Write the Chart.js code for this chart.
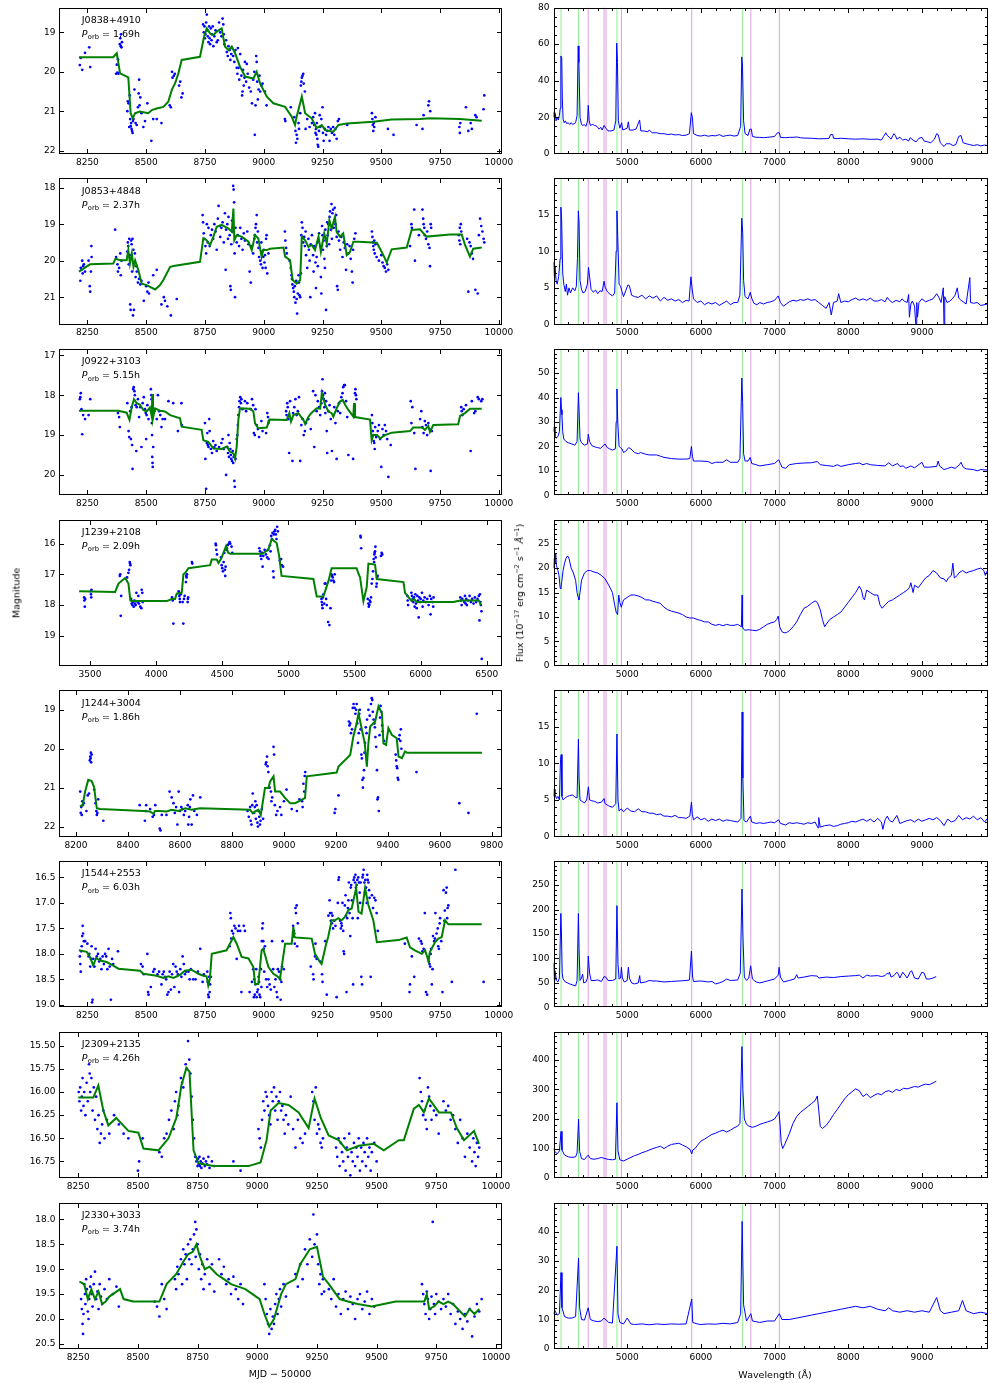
<!DOCTYPE html>
<html><head><meta charset="utf-8">
<script src="https://cdn.jsdelivr.net/npm/chart.js@4.4.1/dist/chart.umd.min.js"></script>
<style>
body{margin:0;width:988px;height:1383px;position:relative;background:#fff;overflow:hidden;font-family:"DejaVu Sans",sans-serif;}
canvas{position:absolute;}
.lbl{position:absolute;font-size:9.5px;color:#000;white-space:nowrap;z-index:5;transform:translate(-50%,-50%);}
.rot{transform:translate(-50%,-50%) rotate(-90deg);}
sup{font-size:6.5px;vertical-align:4px;}
</style></head><body>
<div class="lbl rot" style="left:16px;top:593px;">Magnitude</div>
<div class="lbl rot" style="left:519px;top:593px;">Flux (10<sup>−17</sup> erg cm<sup>−2</sup> s<sup>−1</sup> <i>Å</i><sup>−1</sup>)</div>
<div class="lbl" style="left:280px;top:1373px;">MJD − 50000</div>
<div class="lbl" style="left:775px;top:1374px;">Wavelength (Å)</div>
<script>
// ---------------- DATA ----------------
const names = ["J0838+4910","J0853+4848","J0922+3103","J1239+2108","J1244+3004","J1544+2553","J2309+2135","J2330+3033"];
const periods = ["1.69h","2.37h","5.15h","2.09h","1.86h","6.03h","4.26h","3.74h"];
const balmerLines = [4102,4340,4861,6563];
const heliumLines = [4471,4686,4713,4922,5876,6678,7065];

const lcTicksA = [8250,8500,8750,9000,9250,9500,9750,10000];
const lcTicksB = [3500,4000,4500,5000,5500,6000,6500];
const lcTicksC = [8200,8400,8600,8800,9000,9200,9400,9600,9800];
const specTicks = [5000,6000,7000,8000,9000];

const magTicks1 = [19,20,21,22];
const magTicks2 = [18,19,20,21];
const magTicks3 = [17,18,19,20];
const magTicks4 = [16,17,18,19];
const magTicks5 = [19,20,21,22];
const magTicks6 = [16.5,17.0,17.5,18.0,18.5,19.0];
const magTicks7 = [15.50,15.75,16.00,16.25,16.50,16.75];
const magTicks8 = [18.0,18.5,19.0,19.5,20.0,20.5];

const fluxTicks1 = [0,20,40,60,80];
const fluxTicks2 = [0,5,10,15];
const fluxTicks3 = [0,10,20,30,40,50];
const fluxTicks4 = [0,5,10,15,20,25];
const fluxTicks5 = [0,5,10,15];
const fluxTicks6 = [0,50,100,150,200,250];
const fluxTicks7 = [0,100,200,300,400];
const fluxTicks8 = [0,10,20,30,40];

// light curve observations [MJD-50000, mag]
const obs1 = [[8218,19.83],[8222,19.65],[8228,19.95],[8240,19.52],[8258,19.38],[8262,19.88],
[8372,20.05],[8375,19.82],[8378,20.02],[8380,19.68],[8382,20.05],[8388,19.3],[8390,19.15],[8392,19.35],[8393,19.05],[8395,19.38],[8397,19.25],
[8420,21.0],[8422,20.75],[8425,20.8],[8428,21.4],[8430,20.6],[8432,21.2],[8434,21.38],[8436,21.3],[8438,21.45],[8440,21.5],[8442,21.55],[8444,21.25],[8446,21.2],[8450,20.45],[8455,21.3],[8460,21.35],[8465,20.9],[8468,20.55],[8470,20.2],[8472,20.85],[8475,20.65],[8480,21.05],[8488,21.4],[8495,21.25],[8505,20.8],[8522,21.75],[8530,21.2],[8545,21.2],[8565,21.3],
[8600,20.85],[8605,20.9],[8610,20.0],[8612,20.15],[8618,20.1],[8622,20.05],[8640,20.35],[8645,20.25],[8650,20.65],[8655,20.55],
[8742,18.8],[8745,19.0],[8748,18.85],[8750,19.15],[8752,19.05],[8755,18.75],[8758,18.55],[8760,18.95],[8762,19.1],[8765,19.25],[8768,18.85],[8770,19.15],[8772,19.3],[8775,18.9],[8778,19.2],[8780,19.05],[8783,18.85],[8786,19.35],[8790,19.1],[8795,18.95],[8800,19.25],[8805,19.2],[8810,18.75],[8815,19.0],[8820,19.1],[8825,18.65],[8828,18.8],[8830,19.05],[8833,19.3],
[8840,19.2],[8843,19.5],[8847,19.6],[8850,19.35],[8855,19.45],[8858,19.7],[8862,19.55],[8865,19.4],[8870,19.6],[8875,19.75],[8880,19.45],[8885,19.9],[8888,20.05],[8890,19.4],[8893,19.9],[8896,20.2],[8900,19.55],[8905,20.1],[8908,20.6],[8910,20.5],[8912,19.95],[8915,20.35],[8918,20.15],[8920,19.75],[8925,20.25],[8928,19.8],[8932,20.05],[8938,20.4],[8945,20.5],[8950,20.8],[8955,20.2],[8960,20.0],[8962,21.6],[8965,20.85],[8968,19.6],[8970,19.75],[8972,20.25],[8975,20.7],[8978,20.45],[8982,20.1],[8985,20.5],[8990,20.35],[8995,20.3],[9005,20.5],[9012,20.85],
[9090,21.2],[9092,21.25],[9115,20.9],[9130,21.15],[9135,21.5],[9137,21.8],[9140,21.6],[9143,21.7],[9148,21.3],[9150,21.45],[9155,21.05],[9158,20.35],[9160,20.25],[9162,20.15],[9165,20.1],[9168,20.05],[9170,20.3],[9175,20.5],[9178,21.45],[9185,21.2],[9195,21.4],
[9205,21.3],[9210,21.15],[9215,21.35],[9218,21.05],[9220,21.55],[9222,21.45],[9224,21.6],[9226,21.3],[9228,21.7],[9230,21.85],[9232,21.9],[9235,21.5],[9238,21.1],[9240,21.4],[9245,21.2],[9250,20.9],[9252,21.55],[9255,21.75],[9260,21.45],[9265,21.6],[9270,21.5],[9275,21.4],[9280,21.75],[9285,21.45],[9290,21.55],[9295,21.4],[9300,21.6],[9305,21.45],[9310,21.7],[9315,21.25],[9320,21.2],
[9355,21.35],[9460,21.05],[9462,21.2],[9464,21.35],[9466,21.5],[9468,21.3],[9470,21.4],[9475,21.15],[9528,21.45],[9552,21.6],[9650,21.35],[9675,21.45],[9680,21.1],[9700,20.85],[9703,20.75],[9708,21.0],[9832,21.4],[9834,21.55],[9836,21.3],[9860,20.9],[9870,21.5],[9880,21.3],[9885,21.45],[9900,21.1],[9905,21.15],[9935,20.95],[9938,20.6]];
const fit1 = [[8214,19.63],[8360,19.63],[8375,19.53],[8389,20.04],[8424,20.14],[8434,21.05],[8443,21.18],[8453,21.05],[8474,21.01],[8509,21.05],[8524,20.97],[8545,20.93],[8573,20.89],[8594,20.76],[8609,20.46],[8623,20.29],[8637,20.04],[8651,19.7],[8729,19.62],[8746,19.11],[8758,18.9],[8772,19.03],[8786,19.07],[8800,18.98],[8821,18.9],[8835,19.36],[8850,19.45],[8864,19.36],[8878,19.53],[8899,19.87],[8921,20.12],[8956,20.17],[8970,20.0],[8984,20.29],[9013,20.63],[9041,20.8],[9091,20.89],[9119,21.14],[9133,21.35],[9140,21.14],[9162,20.63],[9176,21.05],[9204,21.18],[9225,21.43],[9247,21.35],[9261,21.48],[9296,21.52],[9318,21.35],[9353,21.31],[9466,21.27],[9544,21.21],[9665,21.2],[9708,21.18],[9835,21.2],[9927,21.24]];

const obs2 = [[8220,20.55],[8222,20.2],[8225,20.25],[8228,20.0],[8230,20.35],[8232,20.15],[8235,20.1],[8240,20.3],[8255,20.0],[8260,20.7],[8262,20.85],[8265,20.3],[8267,19.6],[8268,19.9],
[8368,19.15],[8372,19.9],[8378,20.1],[8380,20.3],[8385,20.2],[8390,19.8],[8392,20.4],[8395,20.0],[8420,19.75],[8422,19.5],[8424,19.6],[8426,20.1],[8428,19.4],[8430,19.85],[8432,21.2],[8434,21.35],[8436,19.45],[8438,19.55],[8440,20.3],[8442,19.4],[8444,21.5],[8446,19.7],[8448,21.35],[8450,20.05],[8452,19.8],[8455,20.45],[8458,20.15],[8460,20.3],[8465,20.6],[8470,20.5],[8475,20.65],[8480,20.55],[8490,21.1],[8500,20.7],[8505,20.85],[8510,20.6],[8512,20.9],[8530,20.4],[8545,20.25],[8565,21.2],[8575,21.0],[8580,21.1],[8590,21.25],[8605,21.5],[8630,21.05],
[8740,18.75],[8742,18.95],[8745,19.25],[8748,19.4],[8752,19.6],[8755,19.8],[8758,19.0],[8762,19.5],[8765,19.1],[8770,19.6],[8775,19.3],[8780,19.15],[8785,19.4],[8790,19.0],[8795,19.2],[8800,19.7],[8805,18.85],[8808,18.5],[8812,19.05],[8815,19.35],[8820,19.1],[8825,18.95],[8830,19.5],[8835,18.7],[8838,20.25],[8840,19.15],[8845,19.0],[8848,19.4],[8850,18.8],[8855,19.3],[8858,20.7],[8860,20.8],[8862,19.55],[8865,18.9],[8868,19.2],[8870,17.95],[8872,18.05],[8874,18.4],[8876,19.8],[8878,21.0],[8880,19.1],[8885,19.5],[8890,19.3],[8895,19.6],[8900,19.1],[8905,19.4],[8910,19.7],[8915,19.25],[8920,19.45],[8930,19.2],[8935,19.55],[8940,20.3],[8945,20.6],[8950,19.6],[8955,19.8],[8960,19.4],[8962,19.3],[8965,19.1],[8967,19.0],[8970,18.75],[8972,19.5],[8975,19.2],[8978,19.65],[8980,19.9],[8985,20.0],[8988,20.1],[8990,19.5],[8993,19.75],[8995,20.2],[8998,19.9],[9000,19.7],[9003,20.05],[9005,19.85],[9008,20.2],[9010,19.4],[9012,19.3],[9015,20.35],[9020,19.8],
[9090,19.2],[9092,19.45],[9095,19.65],[9098,19.8],[9110,20.0],[9115,20.2],[9118,20.4],[9120,20.5],[9122,20.65],[9125,20.75],[9128,20.85],[9130,21.0],[9132,20.7],[9135,21.15],[9138,20.55],[9140,21.05],[9142,21.45],[9145,20.9],[9148,20.4],[9150,20.6],[9152,20.95],[9155,21.0],[9158,20.35],[9160,19.3],[9162,18.95],[9165,19.1],[9168,19.5],
[9172,19.35],[9175,19.6],[9178,19.2],[9180,19.85],[9185,20.2],[9190,19.4],[9192,19.7],[9195,20.0],[9198,21.0],[9200,19.55],[9205,19.3],[9210,19.85],[9212,20.3],[9215,19.6],[9220,20.05],[9222,20.75],[9225,19.9],[9228,19.5],[9230,20.15],[9235,19.25],[9240,19.6],[9243,20.45],[9245,20.9],[9248,19.05],[9250,19.3],[9252,19.7],[9255,19.45],[9258,19.95],[9260,20.2],[9262,19.15],[9265,21.35],[9268,19.6],[9270,18.95],[9272,19.3],[9275,19.0],[9278,19.55],[9280,18.8],[9282,18.65],[9285,19.15],[9288,18.45],[9290,19.4],[9292,18.7],[9295,18.6],[9298,19.1],[9300,18.9],[9302,18.55],[9305,19.0],[9308,18.75],[9310,19.35],[9312,20.7],[9315,20.8],[9318,19.2],[9320,19.45],[9325,19.7],[9330,19.35],[9335,19.9],[9340,19.5],[9345,19.65],[9350,20.25],[9355,19.55],[9360,19.8],[9365,19.6],[9370,19.95],[9375,20.3],[9378,20.6],[9380,19.7],[9385,19.4],[9390,19.25],
[9460,19.2],[9462,19.35],[9464,19.5],[9466,19.6],[9468,19.7],[9470,19.45],[9472,19.8],[9475,19.55],[9480,19.9],[9490,20.0],[9500,19.85],[9505,20.05],[9510,20.15],[9515,20.2],[9520,20.3],[9525,20.1],[9530,20.25],
[9622,19.6],[9628,19.0],[9630,19.1],[9640,18.6],[9643,20.0],[9660,19.3],[9675,18.6],[9678,18.85],[9680,19.0],[9683,19.1],[9685,19.3],[9690,19.4],[9695,19.2],[9700,19.55],[9705,19.65],[9707,20.15],[9710,19.0],[9712,19.1],
[9830,19.3],[9832,19.45],[9834,19.1],[9836,19.55],[9838,19.0],[9840,19.2],[9865,19.4],[9870,20.85],[9875,19.5],[9880,19.6],[9885,19.8],[9890,19.95],[9900,20.8],[9910,20.9],[9915,19.3],[9920,18.85],[9925,19.05],[9930,19.2],[9935,19.4],[9938,19.5]];
const fit2 = [[8214,20.3],[8261,20.1],[8360,20.08],[8370,19.94],[8389,19.99],[8417,19.99],[8424,19.71],[8431,20.08],[8439,19.8],[8446,20.17],[8453,19.99],[8467,20.26],[8481,20.63],[8502,20.67],[8538,20.79],[8559,20.67],[8573,20.53],[8602,20.17],[8623,20.14],[8729,20.03],[8743,19.39],[8757,19.44],[8772,19.57],[8786,19.34],[8800,19.07],[8821,19.02],[8850,19.12],[8864,19.21],[8871,18.57],[8875,19.44],[8885,19.3],[8906,19.34],[8935,19.48],[8949,19.71],[8963,19.3],[8977,19.39],[8991,19.89],[8998,19.71],[9013,19.71],[9027,19.67],[9084,19.64],[9091,19.89],[9112,19.99],[9123,20.53],[9140,20.63],[9155,20.53],[9162,19.34],[9176,19.44],[9190,19.62],[9204,19.57],[9218,19.71],[9233,19.34],[9243,19.76],[9257,19.25],[9268,19.53],[9279,18.89],[9289,19.12],[9303,18.8],[9310,19.21],[9324,19.34],[9338,19.25],[9353,19.85],[9367,19.76],[9381,19.48],[9403,19.48],[9481,19.51],[9502,19.76],[9523,20.05],[9544,19.69],[9608,19.64],[9629,19.16],[9665,19.14],[9679,19.25],[9693,19.34],[9792,19.28],[9842,19.28],[9856,19.57],[9877,19.89],[9891,19.67],[9927,19.64]];

const obs3 = [[8218,18.1],[8220,18.05],[8222,17.95],[8225,18.35],[8228,18.98],[8232,18.5],[8240,18.6],[8255,18.5],[8262,18.1],
[8380,18.45],[8385,18.55],[8388,18.8],[8420,18.2],[8425,18.9],[8428,19.05],[8432,18.4],[8435,19.1],[8438,18.3],[8440,19.25],[8442,19.85],[8445,17.85],[8447,17.8],[8450,17.9],[8452,18.0],[8455,18.25],[8458,19.4],[8460,18.3],[8465,18.1],[8470,18.55],[8475,18.3],[8480,19.3],[8485,18.2],[8490,18.05],[8495,18.35],[8498,18.45],[8500,19.1],[8502,18.5],[8505,18.25],[8510,18.6],[8515,18.35],[8520,17.85],[8522,18.0],[8523,18.1],[8524,18.7],[8525,19.0],[8526,19.55],[8527,19.7],[8528,19.8],[8530,19.3],[8535,18.4],[8545,18.6],[8550,18.0],[8555,18.4],[8560,18.5],[8565,18.8],[8570,18.6],[8580,18.6],[8595,18.15],[8615,18.2],[8635,18.9],[8650,18.2],[8652,18.75],
[8750,18.7],[8752,19.6],[8755,20.35],[8758,19.2],[8760,18.95],[8762,19.25],[8765,19.3],[8768,18.6],[8770,18.9],[8775,19.35],[8780,19.45],[8785,19.15],[8790,19.3],[8795,19.25],[8800,19.4],[8810,19.3],[8820,19.2],[8825,19.1],[8830,19.35],[8840,20.0],[8845,19.3],[8848,19.45],[8850,19.0],[8852,19.55],[8855,19.2],[8858,19.35],[8860,19.5],[8862,19.6],[8865,19.65],[8868,19.4],[8870,19.7],[8872,19.55],[8875,20.15],[8877,20.3],[8880,19.6],[8885,19.1],[8888,19.0],[8890,18.75],[8892,18.5],[8895,18.3],[8897,18.15],[8900,18.05],[8903,18.2],[8905,18.1],[8910,18.35],[8920,18.15],[8925,18.4],[8930,18.2],[8945,18.35],[8950,18.1],[8955,18.25],[8958,18.95],[8962,19.0],[8965,18.35],[8970,18.75],[8975,18.85],[8980,19.05],[8990,18.65],[8995,18.9],[9010,18.95],[9015,18.45],[9018,18.55],[9020,18.7],[9022,18.65],
[9095,18.4],[9097,18.5],[9100,18.2],[9102,18.3],[9105,18.6],[9108,19.45],[9112,18.15],[9118,18.6],[9122,19.65],[9125,18.45],[9130,18.3],[9135,18.1],[9140,18.5],[9145,18.4],[9150,18.05],[9155,19.65],[9160,18.75],[9165,18.6],[9170,19.0],[9175,18.9],[9180,18.7],[9190,18.6],[9200,18.85],[9210,17.9],[9215,19.3],[9220,18.0],[9225,18.4],[9230,18.15],[9235,18.3],[9240,18.5],[9245,18.2],[9248,17.9],[9250,17.6],[9252,18.0],[9255,18.1],[9258,18.3],[9260,17.95],[9262,18.45],[9265,18.15],[9268,18.9],[9270,19.45],[9275,18.4],[9280,18.25],[9285,18.6],[9290,19.4],[9295,18.5],[9300,18.3],[9305,18.7],[9310,19.6],[9315,18.4],[9320,18.2],[9325,18.45],[9330,18.05],[9335,17.95],[9338,17.8],[9342,17.75],[9345,17.75],[9350,18.15],[9355,18.55],[9360,19.5],[9380,19.6],[9385,18.4],[9388,17.95],[9390,17.85],[9392,18.0],[9394,18.1],
[9460,18.5],[9462,18.7],[9464,18.9],[9466,19.0],[9468,19.15],[9470,19.2],[9472,19.35],[9474,18.8],[9478,19.05],[9485,18.9],[9490,18.75],[9495,19.1],[9500,19.8],[9505,18.85],[9510,19.0],[9515,18.75],[9520,18.9],[9525,19.1],[9530,20.05],[9540,19.25],
[9625,18.15],[9628,18.7],[9632,18.3],[9640,18.95],[9645,19.85],[9665,18.6],[9670,18.4],[9675,18.8],[9680,18.95],[9685,18.65],[9690,18.75],[9695,19.0],[9700,18.7],[9705,18.85],[9710,19.9],[9715,18.9],
[9840,18.3],[9842,18.4],[9845,18.5],[9850,18.35],[9860,18.25],[9880,19.4],[9885,18.15],[9895,18.45],[9900,18.4],[9910,18.05],[9915,18.1],[9925,18.15],[9930,18.1]];
const fit3 = [[8214,18.39],[8382,18.39],[8417,18.44],[8429,18.62],[8439,18.29],[8448,18.1],[8460,18.2],[8474,18.24],[8488,18.37],[8502,18.41],[8516,18.31],[8524,18.54],[8526,17.97],[8529,18.58],[8538,18.33],[8559,18.39],[8580,18.41],[8602,18.5],[8644,18.58],[8651,18.79],[8736,18.87],[8743,19.13],[8764,19.17],[8786,19.34],[8821,19.35],[8843,19.29],[8857,19.42],[8871,19.46],[8878,19.59],[8885,19.29],[8892,18.62],[8899,18.33],[8942,18.34],[8956,18.41],[8963,18.71],[8977,18.83],[9013,18.81],[9024,18.61],[9098,18.62],[9109,18.45],[9116,18.66],[9126,18.5],[9147,18.45],[9169,18.62],[9176,18.72],[9190,18.54],[9204,18.44],[9225,18.33],[9240,18.34],[9247,17.95],[9261,18.24],[9275,18.41],[9289,18.45],[9296,18.54],[9310,18.33],[9324,18.16],[9336,18.12],[9346,18.24],[9360,18.37],[9381,18.54],[9384,18.2],[9388,18.55],[9452,18.61],[9459,19.13],[9466,19.0],[9481,19.0],[9495,19.08],[9516,19.0],[9544,18.94],[9622,18.9],[9636,18.81],[9672,18.81],[9686,18.87],[9700,18.77],[9707,18.92],[9721,18.75],[9827,18.73],[9835,18.52],[9856,18.45],[9877,18.34],[9927,18.34]];

const obs4 = [[3455,17.75],[3457,17.85],[3460,18.05],[3463,17.8],[3505,17.55],[3507,17.65],[3509,17.75],[3511,17.5],
[3725,17.05],[3728,17.0],[3732,18.35],[3735,17.7],[3780,17.1],[3790,16.95],[3795,16.85],[3800,16.6],[3802,16.65],[3805,16.7],[3810,17.8],[3815,17.95],[3820,18.0],[3825,17.9],[3830,18.05],[3835,17.85],[3840,17.95],[3845,18.0],[3850,17.6],[3860,17.9],[3865,17.7],[3870,17.95],[3880,18.05],[3888,18.1],[3890,17.5],[3895,17.6],[3898,17.9],
[4120,17.75],[4125,17.85],[4130,18.6],[4170,17.55],[4172,17.6],[4175,17.7],[4178,17.8],[4180,17.9],[4185,17.65],[4200,17.9],[4205,18.6],[4210,17.8],[4215,17.7],[4225,17.25],[4228,17.05],[4230,17.1],[4233,17.0],[4238,17.9],[4240,17.8],[4242,17.75],[4270,16.6],[4273,16.65],
[4450,16.0],[4452,16.05],[4455,16.2],[4460,16.35],[4490,16.45],[4495,16.7],[4500,16.8],[4505,16.9],[4510,16.6],[4515,16.3],[4520,16.85],[4522,17.05],[4525,16.75],[4530,16.2],[4535,16.15],[4540,16.05],[4550,16.0],[4555,15.95],[4560,16.0],[4570,16.1],[4575,16.3],
[4780,16.15],[4785,16.25],[4790,16.4],[4795,16.5],[4800,16.3],[4805,16.75],[4810,16.4],[4820,16.2],[4830,16.35],[4840,16.45],[4845,16.2],[4850,16.5],[4860,16.05],[4865,16.25],[4870,15.75],[4875,15.85],[4880,15.65],[4885,16.9],[4888,17.1],[4890,15.7],[4895,15.6],[4900,15.55],[4905,15.7],[4910,15.85],[4915,15.45],[4920,15.6],[4935,16.55],[4945,16.5],[4950,16.7],[4960,16.75],
[5250,17.8],[5252,17.9],[5255,18.0],[5258,18.1],[5260,17.75],[5265,17.65],[5270,17.95],[5275,17.3],[5280,17.3],[5285,17.8],[5290,18.0],[5300,18.55],[5310,18.65],[5318,18.1],[5322,17.2],[5325,17.0],[5330,17.05],[5335,17.1],[5340,17.2],[5345,17.25],[5350,17.0],
[5545,15.75],[5547,15.8],[5550,16.15],[5600,17.8],[5605,17.95],[5608,18.05],[5612,18.0],[5615,17.85],[5620,17.9],[5625,17.75],[5630,17.3],[5635,17.15],[5640,16.9],[5645,16.5],[5648,16.6],[5650,16.35],[5652,16.3],[5655,16.25],[5658,16.1],[5660,16.45],[5665,17.4],[5668,17.3],[5670,17.1],[5675,17.05],[5700,16.4],[5705,16.3],[5710,16.35],
[5900,17.7],[5902,17.85],[5905,18.0],[5930,17.6],[5935,17.7],[5940,17.8],[5945,17.9],[5950,17.75],[5955,18.05],[5960,17.65],[5965,17.95],[5970,18.1],[5975,17.7],[5980,17.85],[5985,18.4],[5990,17.75],[5995,17.9],[6000,17.8],[6010,17.6],[6015,18.05],[6020,17.85],[6030,17.75],[6040,17.9],[6050,17.8],[6060,18.0],[6070,17.7],[6075,18.3],[6080,17.8],[6090,17.9],[6095,18.05],[6098,17.75],
[6300,17.75],[6305,17.85],[6310,18.0],[6315,17.8],[6330,17.9],[6335,17.7],[6340,17.95],[6345,17.8],[6350,18.0],[6360,17.85],[6370,17.7],[6380,17.9],[6390,17.8],[6400,17.95],[6410,17.75],[6420,17.9],[6430,17.8],[6440,17.7],[6445,18.5],[6448,17.65],[6452,17.9],[6455,18.0],[6460,18.2],[6462,19.75]];
const fit4 = [[3417,17.55],[3689,17.57],[3715,17.3],[3765,17.12],[3777,17.2],[3790,17.3],[3805,17.85],[3815,17.87],[4080,17.87],[4118,17.8],[4143,17.8],[4155,17.63],[4193,17.6],[4206,17.0],[4220,16.95],[4244,16.8],[4408,16.7],[4420,16.52],[4458,16.52],[4471,16.63],[4490,16.5],[4528,16.08],[4545,16.3],[4560,16.33],[4800,16.33],[4848,16.2],[4874,15.85],[4911,15.98],[4930,16.4],[4948,17.05],[5189,17.15],[5214,17.72],[5264,17.72],[5302,17.23],[5327,16.8],[5516,16.8],[5529,16.97],[5542,17.1],[5567,17.87],[5592,17.42],[5605,16.65],[5655,16.68],[5668,17.15],[5870,17.25],[5882,17.6],[5932,17.87],[5950,17.8],[5970,17.9],[6247,17.9],[6300,17.85],[6440,17.85],[6457,18.0]];

const obs5 = [[8216,21.1],[8218,21.65],[8220,21.5],[8222,21.7],[8224,21.35],[8226,21.45],[8230,21.4],[8240,21.6],[8245,21.2],[8250,21.15],[8253,20.3],[8255,20.2],[8256,20.25],[8257,20.1],[8258,20.35],[8260,20.15],[8270,21.05],[8275,21.4],[8278,21.6],[8280,21.7],[8282,21.65],[8285,21.3],[8305,21.85],
[8445,21.45],[8465,21.85],[8468,21.6],[8470,21.45],[8485,21.55],[8495,21.75],[8500,21.7],[8505,21.45],[8522,22.05],[8525,22.1],[8530,21.7],[8548,21.7],[8560,21.1],[8568,21.25],[8575,21.4],[8580,21.65],[8585,21.5],[8590,21.95],[8595,21.1],[8600,21.6],[8605,21.5],[8610,21.55],[8615,21.7],[8620,21.6],[8630,21.45],[8632,21.95],[8635,21.75],[8638,21.5],[8640,21.3],[8645,21.95],[8650,21.2],[8655,21.6],[8665,21.7],[8678,21.25],
[8860,21.6],[8865,21.75],[8870,21.5],[8872,21.85],[8875,21.95],[8878,21.45],[8880,21.15],[8885,21.65],[8888,21.5],[8890,21.35],[8892,21.8],[8895,21.45],[8898,21.9],[8900,22.0],[8902,21.6],[8905,21.75],[8908,21.95],[8910,21.85],[8915,21.55],[8920,21.8],
[8930,20.4],[8932,20.35],[8935,20.2],[8937,20.45],[8940,20.6],[8945,21.0],[8950,21.1],[8952,21.35],[8955,21.25],[8960,19.95],[8962,20.15],[8965,21.45],[8970,21.7],[8975,21.6],[8985,21.5],[8990,21.7],[9000,21.35],[9010,21.05],[9030,21.55],[9050,21.6],[9060,21.3],[9070,21.35],[9072,21.5],[9075,20.9],[9078,21.1],[9080,20.7],[9082,20.6],
[9195,21.65],[9198,21.55],[9210,21.2],[9250,19.3],[9252,19.4],[9255,19.35],[9258,19.6],[9262,19.5],[9265,18.95],[9268,18.85],[9272,18.95],[9275,19.1],[9278,19.0],[9280,18.85],[9282,19.35],[9285,19.85],[9288,19.6],[9290,19.1],[9292,19.0],[9295,19.5],[9298,20.15],[9300,20.25],[9302,20.8],[9304,21.0],[9306,20.75],[9308,20.55],[9310,20.1],[9312,19.85],[9315,19.45],[9318,19.6],[9320,19.25],[9325,19.0],[9330,19.15],[9335,18.85],[9338,18.7],[9340,18.75],[9342,19.05],[9345,19.25],[9348,19.35],[9350,19.45],[9352,19.7],[9355,19.95],[9358,20.55],[9360,21.3],[9362,21.25],[9365,21.6],[9368,19.65],[9370,19.2],[9372,18.9],[9375,19.05],[9378,19.4],[9380,19.55],[9385,19.8],
[9430,20.15],[9432,20.3],[9434,20.45],[9436,20.5],[9438,20.75],[9440,20.8],[9442,19.75],[9445,19.65],[9448,19.8],[9450,19.5],[9452,20.0],
[9510,20.6],[9675,21.4],[9710,21.65],[9742,19.1]];
const fit5 = [[8215,21.48],[8226,21.44],[8235,21.1],[8247,20.8],[8260,20.83],[8269,20.97],[8280,21.53],[8292,21.55],[8459,21.6],[8484,21.61],[8498,21.67],[8504,21.6],[8523,21.6],[8549,21.61],[8568,21.57],[8594,21.6],[8620,21.53],[8645,21.57],[8677,21.53],[8870,21.57],[8880,21.66],[8889,21.61],[8902,21.57],[8911,21.7],[8921,21.27],[8927,21.01],[8940,21.01],[8947,20.84],[8960,20.71],[8966,21.1],[8985,21.1],[9005,21.27],[9024,21.4],[9043,21.4],[9069,21.31],[9081,21.27],[9088,20.71],[9203,20.61],[9210,20.46],[9255,20.16],[9267,19.69],[9280,19.34],[9287,19.09],[9300,19.51],[9311,19.86],[9319,20.46],[9325,19.86],[9332,19.43],[9351,19.3],[9364,18.91],[9377,19.09],[9383,19.86],[9393,19.9],[9402,19.47],[9415,19.64],[9434,19.73],[9441,20.2],[9454,20.24],[9466,20.07],[9473,20.1],[9762,20.1]];

const obs6 = [[8218,18.05],[8220,18.2],[8222,18.35],[8224,17.95],[8226,17.85],[8228,17.65],[8230,17.45],[8232,17.6],[8235,17.75],[8240,17.75],[8250,17.8],[8255,18.05],[8258,18.0],[8262,18.25],[8265,18.1],[8268,17.85],[8270,18.95],[8272,18.9],[8275,18.1],[8280,18.25],[8285,17.9],[8290,18.05],[8295,18.0],[8300,18.15],[8305,18.1],[8310,18.3],[8315,18.05],[8320,18.2],[8325,18.0],[8330,18.05],[8335,18.3],[8340,17.9],[8345,18.25],[8350,18.9],[8355,18.1],[8360,18.2],[8380,17.95],
[8478,18.2],[8485,18.25],[8490,18.4],[8505,18.0],[8508,18.75],[8510,18.8],[8520,18.65],[8530,18.35],[8535,18.3],[8548,18.4],[8555,18.35],[8565,18.6],[8570,18.4],[8575,18.35],[8580,18.45],[8585,18.5],[8590,18.8],[8595,18.75],[8600,18.35],[8605,18.7],[8610,18.4],[8615,18.2],[8620,18.65],[8625,18.25],[8630,18.35],[8635,18.4],[8640,18.75],[8645,18.3],[8650,18.45],[8655,18.05],[8660,18.2],[8665,18.4],[8670,18.35],[8680,18.35],[8685,18.5],[8690,18.3],[8700,18.5],[8710,18.5],[8720,18.35],[8730,17.9],[8740,18.55],[8745,18.4],
[8760,18.35],[8762,18.55],[8764,18.8],[8766,18.85],[8768,18.45],[8770,18.75],[8772,18.6],[8775,18.45],
[8855,17.85],[8858,17.2],[8860,17.3],[8862,17.7],[8865,17.55],[8870,17.6],[8875,17.45],[8880,17.5],[8885,18.1],[8890,17.55],[8895,17.45],[8900,17.55],[8905,18.75],[8915,17.45],[8920,17.55],
[8940,18.75],[8950,18.55],[8955,18.3],[8958,18.85],[8960,18.5],[8962,18.8],[8965,18.6],[8968,18.3],[8970,18.85],[8972,18.75],[8975,18.7],[8978,18.45],[8980,18.55],[8982,18.8],[8985,18.85],[8988,18.3],[8990,18.65],[8992,17.75],[8994,17.5],[8996,17.4],[8998,17.75],[9000,17.9],[9002,18.35],[9005,17.85],[9010,18.5],[9015,18.65],[9020,18.5],[9025,18.6],[9030,18.7],[9035,17.75],[9040,18.3],[9045,18.65],[9050,18.5],[9055,18.75],[9058,18.85],[9060,18.3],[9065,18.35],[9070,18.5],[9072,18.9],[9075,18.55],[9078,18.25],[9080,17.75],[9085,18.3],
[9125,17.45],[9128,17.55],[9130,17.6],[9132,17.8],[9135,17.1],[9137,17.2],[9140,17.05],[9142,17.85],[9145,17.4],
[9200,18.25],[9210,18.4],[9212,18.5],[9218,18.05],[9220,17.8],[9225,18.1],[9240,18.15],[9248,18.4],[9250,18.55],[9262,17.75],[9268,18.8],[9275,17.25],[9280,16.95],[9282,17.2],[9285,17.35],[9288,17.2],[9290,17.4],[9292,17.25],[9295,17.5],[9300,17.35],[9305,17.45],[9310,18.85],[9315,17.0],[9318,16.55],[9320,16.5],[9325,17.35],[9328,17.5],[9330,17.4],[9332,17.45],[9335,17.0],[9338,17.55],[9340,17.95],[9342,18.0],[9345,17.05],[9348,16.85],[9350,17.25],[9352,18.75],[9355,17.3],[9358,17.1],[9360,16.95],[9362,16.6],[9365,17.2],[9368,17.65],[9370,16.7],[9372,16.65],[9375,16.95],[9378,17.3],[9380,18.6],[9382,16.55],[9385,16.5],[9388,16.6],[9390,16.45],[9392,16.7],[9395,16.65],[9398,16.55],[9400,17.3],[9402,16.5],[9405,16.6],[9408,16.8],[9410,17.0],[9412,16.6],[9415,18.45],[9418,18.6],[9420,16.5],[9422,16.45],[9425,16.35],[9428,16.6],[9430,16.8],[9432,16.55],[9435,16.7],[9438,17.0],[9440,16.45],[9442,16.55],[9445,16.6],[9448,16.75],[9450,16.9],[9455,18.45],[9460,16.85],[9465,17.1],[9470,16.9],[9475,16.95],[9480,17.2],[9485,17.55],
[9600,17.8],[9620,18.75],[9622,18.6],[9630,18.05],[9640,18.45],[9660,17.7],[9668,17.75],[9672,17.8],[9675,17.95],[9680,17.9],[9685,17.2],[9690,18.75],[9695,18.8],[9700,18.1],[9702,18.15],[9705,18.2],[9708,18.25],[9710,18.0],[9712,17.9],[9715,18.6],[9718,18.3],[9720,17.65],[9725,17.75],[9728,17.7],[9730,17.2],[9735,17.6],[9740,17.5],[9742,17.85],[9745,17.9],[9748,17.4],[9750,17.3],[9755,17.75],[9760,18.75],[9765,16.75],[9768,17.35],[9770,17.15],[9775,16.8],[9778,16.7],[9780,17.3],[9782,17.1],[9785,17.05],[9800,18.55],[9815,16.35],[9935,18.55]];
const fit6 = [[8214,17.93],[8247,17.96],[8261,18.06],[8275,18.23],[8287,18.08],[8304,18.13],[8332,18.16],[8360,18.23],[8382,18.29],[8474,18.33],[8488,18.39],[8516,18.41],[8545,18.43],[8573,18.47],[8594,18.44],[8616,18.47],[8644,18.41],[8665,18.33],[8693,18.31],[8722,18.39],[8743,18.43],[8757,18.44],[8764,18.62],[8771,18.49],[8779,18.0],[8842,17.93],[8871,17.67],[8885,17.8],[8906,18.06],[8935,18.09],[8956,18.26],[8963,18.59],[8977,18.59],[8991,17.93],[8998,17.9],[9020,18.26],[9041,18.39],[9055,18.43],[9069,18.49],[9091,17.8],[9119,17.8],[9126,17.47],[9130,17.67],[9137,17.68],[9204,17.7],[9218,18.0],[9239,18.16],[9246,18.2],[9264,17.83],[9274,17.67],[9289,17.34],[9303,17.34],[9317,17.3],[9331,17.34],[9346,17.27],[9360,17.14],[9374,17.11],[9393,16.71],[9403,17.17],[9416,17.21],[9431,16.71],[9445,17.04],[9466,17.34],[9481,17.77],[9573,17.73],[9608,17.68],[9622,17.87],[9643,17.93],[9672,18.0],[9686,17.93],[9700,18.13],[9707,17.96],[9729,17.77],[9743,17.7],[9757,17.67],[9771,17.34],[9785,17.42],[9927,17.42]];

const obs7 = [[8252,16.0],[8255,16.1],[8258,15.95],[8262,16.2],[8265,16.05],[8268,15.85],[8272,16.15],[8275,16.0],[8280,16.25],[8285,15.9],[8290,16.1],[8295,15.7],[8298,15.8],[8300,16.0],[8305,15.85],[8310,16.2],[8315,15.95],[8320,16.3],[8325,16.05],[8330,16.4],[8335,16.25],[8340,16.55],[8345,16.45],[8350,16.35],[8355,16.2],[8360,16.5],[8370,16.3],[8380,16.45],[8400,16.25],[8420,16.35],[8440,16.45],[8460,16.5],
[8500,16.85],[8505,16.75],[8520,16.5],
[8590,16.65],[8600,16.7],[8610,16.5],[8620,16.45],[8630,16.3],[8640,16.2],[8650,16.4],[8655,16.1],[8660,16.0],[8665,16.25],[8670,16.15],[8680,15.85],[8685,15.9],[8690,15.95],[8700,15.7],[8705,15.75],[8710,15.45],[8715,15.65],[8720,15.8],[8725,16.05],[8730,16.3],[8735,16.5],
[8740,16.7],[8745,16.75],[8750,16.8],[8752,16.72],[8755,16.78],[8758,16.7],[8760,16.8],[8763,16.75],[8766,16.82],[8770,16.77],[8775,16.72],[8780,16.8],[8785,16.75],[8790,16.78],[8795,16.7],[8800,16.82],[8810,16.75],[8820,16.8],[8900,16.75],[8930,16.85],
[9005,16.4],[9010,16.5],[9015,16.6],[9020,16.3],[9025,16.1],[9030,16.2],[9035,16.0],[9040,16.05],[9045,16.15],[9050,16.25],[9055,16.35],[9060,16.0],[9065,16.1],[9070,15.95],[9075,16.2],[9080,16.05],[9085,16.3],[9090,16.1],[9095,16.0],[9100,16.2],[9105,16.15],[9110,16.3],[9115,16.45],[9120,16.25],[9130,16.35],[9140,16.05],[9150,16.4],[9160,16.6],[9170,16.3],[9180,16.5],[9190,16.55],[9200,16.45],
[9230,16.0],[9235,16.1],[9240,16.3],[9245,15.95],[9250,16.45],[9255,16.35],[9260,16.4],[9265,16.55],[9270,16.6],[9275,16.5],
[9330,16.6],[9335,16.7],[9340,16.5],[9345,16.8],[9350,16.55],[9355,16.65],[9360,16.75],[9365,16.5],[9370,16.85],[9375,16.6],[9380,16.7],[9385,16.45],[9390,16.9],[9395,16.65],[9400,16.75],[9405,16.55],[9410,16.8],[9415,16.6],[9420,16.7],[9425,16.5],[9430,16.85],[9435,16.6],[9440,16.75],[9445,16.55],[9450,16.65],[9455,16.8],[9460,16.5],[9465,16.7],[9470,16.6],[9475,16.85],[9480,16.65],[9490,16.55],[9500,16.75],
[9680,15.85],[9685,16.0],[9690,16.1],[9695,16.25],[9700,16.2],[9705,16.3],[9710,16.4],[9715,15.95],[9720,16.05],[9725,16.15],[9730,16.3],[9740,16.2],[9750,16.25],[9760,16.45],
[9780,16.1],[9790,16.2],[9800,16.15],[9810,16.3],[9820,16.25],[9830,16.4],[9840,16.55],[9850,16.3],[9860,16.5],[9870,16.7],[9880,16.45],[9890,16.6],[9900,16.75],[9905,16.5],[9910,16.65],[9915,16.8],[9920,16.55],[9925,16.7],[9930,16.6]];
const fit7 = [[8250,16.06],[8313,16.06],[8334,15.93],[8355,16.2],[8376,16.36],[8409,16.28],[8460,16.42],[8502,16.44],[8523,16.61],[8586,16.63],[8628,16.5],[8661,16.28],[8682,15.93],[8703,15.74],[8716,15.78],[8733,16.63],[8754,16.77],[8817,16.8],[8963,16.8],[9014,16.76],[9039,16.52],[9056,16.2],[9089,16.12],[9131,16.14],[9173,16.22],[9215,16.39],[9240,16.07],[9266,16.28],[9299,16.47],[9341,16.52],[9375,16.63],[9425,16.58],[9488,16.56],[9530,16.63],[9593,16.52],[9614,16.52],[9656,16.18],[9677,16.14],[9698,16.22],[9719,16.07],[9761,16.22],[9811,16.22],[9836,16.39],[9866,16.52],[9908,16.42],[9929,16.56]];

const obs8 = [[8262,19.6],[8265,19.8],[8268,20.1],[8270,20.3],[8272,19.9],[8275,19.3],[8278,19.5],[8280,19.7],[8283,19.2],[8286,19.4],[8290,19.85],[8293,20.0],[8296,19.6],[8300,19.35],[8303,19.15],[8306,19.5],[8310,19.75],[8315,19.3],[8320,19.05],[8325,19.6],[8330,19.45],[8335,19.8],[8340,19.3],[8345,19.55],[8350,19.7],[8360,19.4],[8370,19.6],[8380,19.2],[8395,19.5],[8410,19.35],[8420,19.75],
[8570,19.65],[8580,19.75],[8590,19.95],[8600,19.3],[8610,19.6],[8620,19.8],
[8655,19.2],[8660,19.4],[8665,18.95],[8670,19.1],[8680,18.8],[8685,19.3],[8690,18.6],[8695,18.9],[8700,18.7],[8705,19.2],[8710,18.5],[8715,18.8],[8720,18.4],[8725,18.9],[8730,18.6],[8735,18.3],[8740,18.05],[8742,18.75],[8745,18.2],[8750,18.5],[8755,19.0],[8760,18.7],[8765,19.2],[8770,18.9],[8775,19.4],[8780,19.1],[8790,18.8],[8800,19.3],[8810,18.9],[8820,19.45],
[8840,18.8],[8850,19.1],[8860,18.95],[8870,19.3],[8880,19.2],[8890,19.5],[8900,19.15],[8910,19.4],[8920,19.6],[8930,19.3],[8940,19.7],
[9030,19.3],[9035,19.6],[9040,19.9],[9045,20.1],[9050,20.3],[9055,19.8],[9060,20.2],[9065,19.95],[9070,20.1],[9075,19.7],[9080,19.5],[9085,19.9],[9090,19.6],[9095,19.4],[9100,19.75],[9110,19.3],[9120,19.55],
[9160,19.1],[9170,19.35],[9180,18.9],[9190,19.2],[9200,18.6],[9210,18.9],[9220,18.4],[9230,18.75],[9235,17.9],[9240,18.5],[9250,18.3],[9255,18.9],[9260,19.3],[9265,19.1],[9270,19.5],[9275,19.2],[9280,19.45],
[9300,19.4],[9310,19.6],[9320,19.2],[9330,19.75],[9340,19.5],[9350,19.9],[9360,19.6],[9370,19.45],[9380,19.8],[9390,19.55],[9400,19.7],[9410,20.0],[9420,19.6],[9430,19.5],[9440,19.8],[9450,19.65],[9460,19.45],[9470,19.9],[9480,19.6],[9490,19.75],
[9690,19.3],[9695,19.5],[9700,19.7],[9705,19.9],[9710,19.45],[9715,19.6],[9720,20.0],[9725,19.8],[9730,19.55],[9735,18.05],[9740,19.7],[9745,19.9],[9750,19.5],[9760,19.65],[9770,19.8],[9780,19.6],[9790,19.75],[9800,19.5],[9810,19.9],[9820,19.7],[9830,20.1],[9840,19.85],[9850,20.0],[9860,20.2],[9870,19.9],[9880,20.05],[9890,19.8],[9900,20.35],[9910,19.95],[9920,19.7],[9930,19.85],[9940,19.6]];
const fit8 = [[8255,19.25],[8275,19.3],[8290,19.6],[8305,19.4],[8320,19.6],[8335,19.45],[8350,19.7],[8365,19.65],[8380,19.55],[8395,19.5],[8410,19.45],[8425,19.4],[8440,19.6],[8480,19.65],[8590,19.65],[8620,19.3],[8660,19.1],[8690,18.85],[8710,18.7],[8730,18.65],[8745,18.5],[8760,18.75],[8780,19.0],[8800,18.95],[8830,19.1],[8860,19.2],[8890,19.3],[8920,19.35],[8950,19.4],[8980,19.5],[9010,19.6],[9030,19.9],[9050,20.15],[9070,20.0],[9085,19.75],[9100,19.5],[9120,19.3],[9140,19.25],[9160,19.2],[9180,18.9],[9200,18.75],[9220,18.6],[9250,18.55],[9265,18.9],[9275,19.15],[9300,19.3],[9330,19.5],[9345,19.6],[9380,19.65],[9420,19.7],[9480,19.75],[9530,19.7],[9580,19.65],[9650,19.65],[9700,19.65],[9710,19.5],[9720,19.8],[9740,19.75],[9760,19.65],[9780,19.7],[9800,19.65],[9820,19.7],[9850,19.85],[9870,19.95],[9890,19.8],[9910,19.9],[9930,19.8]];

// spectra [wavelength (A), flux]
const spec1 = [[4000,20],[4008,23],[4015,19],[4025,22],[4035,18],[4050,20],[4065,18.5],[4080,21],[4092,25],[4100,53.5],[4112,52.5],[4120,30],[4130,19],[4145,17],[4160,18],[4180,16.5],[4200,17],[4220,16],[4240,17],[4260,16],[4280,16.5],[4300,17],[4320,21],[4335,59],[4345,50],[4360,20],[4380,16],[4400,15.5],[4420,16],[4440,15],[4462,18],[4472,26.5],[4485,18],[4500,15.5],[4530,16],[4560,15.5],[4590,15],[4620,13.5],[4640,14.5],[4660,13],[4686,15.5],[4710,14],[4740,12.5],[4780,12.5],[4820,13],[4845,18],[4858,60.5],[4868,50],[4880,18],[4900,14],[4925,17],[4940,13],[4970,13.5],[5000,14],[5016,17.5],[5030,13],[5080,13],[5120,13.5],[5169,18.5],[5185,12.5],[5230,12.5],[5280,12],[5300,13],[5340,11.5],[5400,11.5],[5450,11],[5500,11],[5550,10.5],[5600,10.8],[5650,10.3],[5700,10.5],[5750,10],[5800,10.2],[5845,11],[5870,22.5],[5885,20],[5900,11],[5950,10],[6000,9.7],[6050,10.2],[6100,9.6],[6150,10],[6200,9.8],[6250,10.5],[6300,9.5],[6350,10],[6400,10.2],[6450,9.7],[6500,10],[6540,15],[6555,53],[6565,48],[6580,18],[6600,11],[6640,10],[6665,13.5],[6685,13.5],[6700,9.5],[6750,9],[6800,9],[6850,8.8],[6900,9],[6950,9.2],[7000,9.5],[7040,11.5],[7065,11.5],[7080,9],[7150,8.8],[7200,9],[7250,9],[7300,9.2],[7350,8.8],[7400,8.6],[7500,8.5],[7600,8.2],[7700,8.3],[7740,8.5],[7760,10.5],[7790,10.5],[7800,8.5],[7850,8.3],[7900,8.5],[8000,8.2],[8100,8],[8200,8.2],[8300,7.9],[8400,8],[8450,7.5],[8480,9.5],[8510,11.5],[8530,10],[8560,9],[8580,8],[8620,11],[8640,10],[8660,8],[8700,9],[8740,7.5],[8780,8],[8820,7],[8840,8.8],[8880,7.5],[8920,6.5],[8960,8.5],[9000,9],[9030,7],[9080,6.5],[9120,6],[9170,8],[9200,11],[9220,10.5],[9250,6],[9300,4],[9330,5.5],[9380,5.5],[9420,4.5],[9460,5],[9500,9.5],[9530,10],[9560,6],[9600,5.5],[9650,5],[9700,4.5],[9750,5],[9800,4.3],[9850,4.8],[9890,4.5]];
const spec2 = [[4000,8.5],[4010,6.5],[4020,8.0],[4035,6.0],[4050,5.5],[4070,6.5],[4090,9],[4100,16],[4110,14.5],[4125,7],[4140,5.5],[4160,4.5],[4175,5.5],[4190,4],[4210,5],[4230,4.3],[4260,5],[4290,4.6],[4310,5.2],[4325,9],[4337,15.5],[4347,14],[4360,6],[4380,4.8],[4400,4.3],[4430,4.5],[4460,5.5],[4475,7.8],[4490,6.5],[4510,4.8],[4540,4.4],[4570,4.7],[4600,4.2],[4630,4.6],[4660,4.5],[4686,5.9],[4700,5.1],[4730,4.5],[4760,4.2],[4800,3.9],[4830,4.3],[4850,10],[4861,15.5],[4872,12],[4890,5.5],[4910,5.2],[4930,4.5],[4950,3.8],[4980,4.6],[5010,5.4],[5030,5.3],[5060,4],[5100,3.8],[5150,3.7],[5200,4.0],[5250,3.5],[5300,3.9],[5350,3.6],[5400,3.9],[5450,3.2],[5500,3.7],[5550,3.3],[5600,3.5],[5650,3.2],[5700,3.4],[5750,3.0],[5800,3.3],[5840,3.2],[5865,6.5],[5880,5.0],[5900,3.5],[5950,3.0],[6000,3.2],[6050,2.7],[6100,3.0],[6150,2.8],[6200,3.0],[6250,2.6],[6300,2.9],[6350,3.2],[6400,2.7],[6450,3.0],[6500,3.0],[6530,4],[6555,14.5],[6568,12.5],[6580,6],[6600,3.8],[6640,3.5],[6670,4.4],[6690,3.6],[6720,2.9],[6760,2.7],[6800,3.0],[6850,2.8],[6900,3.0],[6950,3.1],[7000,3.3],[7050,3.9],[7080,3.0],[7120,2.5],[7160,2.8],[7200,3.1],[7250,3.3],[7300,3.2],[7350,3.4],[7400,3.3],[7450,3.5],[7500,3.3],[7550,3.4],[7600,3.0],[7650,2.6],[7700,2.2],[7740,3.0],[7770,1.3],[7800,3.0],[7850,3.2],[7870,4.2],[7900,3.0],[7950,3.2],[8000,3.1],[8050,3.4],[8100,3.6],[8150,3.3],[8200,3.5],[8250,3.3],[8300,3.6],[8350,3.2],[8400,3.2],[8450,3.4],[8500,3.1],[8530,3.7],[8560,3.3],[8600,3.0],[8650,3.3],[8700,3.1],[8730,3.5],[8760,3.2],[8800,3.0],[8820,4.1],[8830,1.0],[8850,2.8],[8870,3.2],[8900,2.5],[8920,-0.5],[8930,3.0],[8940,1.0],[8960,3.0],[9000,3.5],[9050,3.1],[9100,3.3],[9150,3.5],[9200,4.2],[9230,3.7],[9260,3.0],[9290,5.0],[9300,-0.5],[9310,3.8],[9340,3.0],[9380,3.2],[9420,3.6],[9450,4.0],[9480,5.0],[9500,3.6],[9530,3.3],[9560,3.1],[9600,2.8],[9650,6.4],[9660,3.0],[9700,2.9],[9750,3.0],[9800,2.6],[9890,2.8]];
const spec3 = [[4000,26],[4010,28],[4020,24],[4040,23.5],[4060,24],[4080,26],[4100,40],[4108,35],[4115,33],[4125,26],[4140,23],[4170,22],[4200,21.5],[4250,21],[4290,20.5],[4320,22],[4338,42],[4347,35],[4360,23],[4380,21.5],[4420,20.5],[4460,21],[4472,25],[4490,22],[4520,20.3],[4560,19.8],[4600,19.5],[4640,19.2],[4680,20.5],[4700,21],[4730,19.5],[4760,19],[4800,18.5],[4840,19],[4850,30],[4861,43.5],[4872,30],[4890,20],[4910,19.5],[4930,19],[4950,17.5],[4980,18],[5020,19.5],[5050,19],[5100,17.5],[5150,17],[5180,17.5],[5250,16.8],[5300,16.5],[5400,16.5],[5450,16],[5500,15.5],[5600,15],[5700,14.8],[5800,14.8],[5850,15],[5872,20],[5885,16],[5900,14],[6000,14],[6100,13.8],[6150,13],[6200,13.5],[6300,13.5],[6350,14.5],[6400,13.5],[6500,13.5],[6530,15],[6556,48],[6567,38],[6580,17],[6600,14],[6640,14],[6670,15.5],[6690,13],[6750,12.5],[6800,12],[6900,12.5],[7000,13],[7055,14.5],[7080,13],[7100,11.5],[7150,11],[7200,12.5],[7300,13],[7400,13.2],[7500,13.3],[7580,13.8],[7620,12.5],[7700,12.2],[7800,11.8],[7850,12.5],[7900,11.8],[8000,12.5],[8100,13],[8150,13.2],[8200,12.5],[8250,13],[8300,12.5],[8400,12.2],[8500,12],[8550,13.3],[8600,12],[8670,13],[8700,11.8],[8750,12],[8780,11],[8850,12],[8900,11.2],[9000,13.5],[9030,11.5],[9100,11.5],[9200,11.8],[9220,14],[9240,12],[9300,10.5],[9350,11],[9400,11.5],[9450,11],[9510,12.5],[9530,13.5],[9560,11.5],[9600,10.8],[9700,10.5],[9750,10],[9800,10.5],[9890,10.3]];
const spec4 = [[4000,20],[4010,22],[4020,21],[4030,23],[4040,20.5],[4060,19.5],[4075,18.5],[4090,16],[4100,15.8],[4110,17],[4130,19.5],[4150,21],[4170,22],[4190,22.5],[4210,22],[4240,20],[4270,19],[4300,17.5],[4320,15],[4335,14],[4345,13.5],[4360,15],[4380,17.5],[4420,19],[4460,19.5],[4500,19.5],[4550,19.2],[4600,19],[4650,18.5],[4700,17.8],[4750,16.5],[4800,15],[4830,12.5],[4850,11],[4870,10.5],[4885,14.5],[4900,13],[4920,12],[4950,13.5],[5000,14],[5050,14.5],[5100,14.5],[5150,14.3],[5200,14],[5250,13.5],[5300,13.5],[5350,13.2],[5400,13],[5450,12.8],[5500,12],[5550,11.5],[5600,11.2],[5650,11],[5700,10.8],[5750,10.5],[5800,10],[5850,9.8],[5900,9.8],[5950,9.5],[6000,9.3],[6050,9],[6100,9],[6150,8.5],[6200,8.3],[6250,8.5],[6300,8.2],[6350,8.5],[6400,8.3],[6450,8.3],[6500,8.5],[6550,8],[6560,14.5],[6566,8],[6580,7.5],[6600,7.3],[6650,7.4],[6700,7.3],[6750,7.2],[6800,7.5],[6850,8],[6900,8.5],[6950,8.8],[7000,9],[7030,9.5],[7050,10.2],[7070,8],[7100,7],[7130,6.8],[7160,6.8],[7200,7.2],[7250,8],[7300,9],[7350,10.5],[7400,11.8],[7450,12.2],[7500,12.8],[7550,13.3],[7580,13],[7620,11.5],[7650,9.5],[7680,8],[7700,8.5],[7750,9.5],[7800,10],[7850,10.5],[7900,11],[7950,12],[8000,13],[8050,14],[8100,15],[8150,16.3],[8180,15.5],[8200,14],[8220,13.5],[8250,15.5],[8300,15],[8350,14.5],[8400,14.5],[8430,12.5],[8460,11.8],[8500,12.5],[8550,13.2],[8600,13.5],[8650,14],[8700,14.5],[8750,15],[8800,15.5],[8830,16],[8850,17],[8880,15],[8900,16.5],[8950,16],[9000,17],[9050,18],[9100,18.5],[9150,19.5],[9200,19],[9250,18],[9300,17.8],[9330,17.2],[9360,18],[9400,18.5],[9420,21],[9440,18],[9480,18.5],[9500,19],[9550,19.5],[9600,19],[9650,19.3],[9700,19.5],[9750,19.8],[9800,20],[9840,19.5],[9860,18.5],[9890,19.5]];
const spec5 = [[4000,5.5],[4010,6.5],[4020,5.8],[4040,5.2],[4060,5.5],[4080,5],[4095,10.5],[4105,11.2],[4115,5.5],[4130,5],[4160,5.3],[4190,5.5],[4220,5.6],[4260,5.7],[4290,5.4],[4320,5.3],[4338,13.3],[4347,8],[4360,5],[4390,4.8],[4420,4.6],[4450,5],[4474,6.8],[4490,5],[4520,4.9],[4560,4.8],[4600,4.6],[4650,4.7],[4686,5.2],[4700,4.5],[4750,4.2],[4800,4.0],[4845,4.5],[4861,14],[4875,5],[4890,3.5],[4920,3.8],[4950,3.4],[5000,3.9],[5050,3.5],[5100,3.4],[5150,3.8],[5200,3.4],[5250,3.4],[5300,3.2],[5350,3.2],[5400,3.0],[5450,3.1],[5500,2.8],[5550,2.8],[5600,2.7],[5650,2.9],[5700,2.6],[5750,2.6],[5800,2.5],[5850,2.8],[5872,4.7],[5885,3],[5900,2.3],[5950,2.7],[6000,2.3],[6050,2.5],[6100,2.1],[6150,2.4],[6200,2.2],[6250,2.4],[6300,2.1],[6350,2.3],[6400,2.2],[6450,2.1],[6500,2.0],[6545,2.5],[6560,17],[6570,8],[6585,2.2],[6620,2.0],[6672,2.8],[6690,2.0],[6750,1.8],[6800,1.9],[6850,1.8],[6900,1.9],[6950,2.0],[7000,1.9],[7055,2.3],[7080,1.8],[7150,1.6],[7200,1.9],[7250,1.8],[7300,1.9],[7350,1.8],[7400,1.7],[7450,1.9],[7500,1.8],[7550,2.0],[7590,1.2],[7600,2.6],[7620,1.3],[7680,1.5],[7750,1.6],[7800,1.4],[7850,1.5],[7900,1.7],[7950,1.8],[8000,1.9],[8050,2.1],[8100,2.0],[8150,2.2],[8200,2.4],[8250,2.1],[8300,2.4],[8350,2.0],[8400,2.5],[8450,2.0],[8470,1.0],[8500,2.3],[8530,2.8],[8560,2.2],[8600,2.0],[8660,2.9],[8700,1.8],[8750,2.0],[8800,2.2],[8850,2.3],[8900,2.0],[8950,2.4],[9000,2.1],[9050,2.3],[9100,2.5],[9150,2.3],[9200,2.6],[9250,2.2],[9300,1.5],[9350,2.4],[9400,2.0],[9450,2.2],[9500,2.9],[9550,2.3],[9600,2.6],[9650,2.4],[9700,2.8],[9750,2.3],[9800,2.6],[9850,2.0],[9890,2.5]];
const spec6 = [[4000,90],[4010,55],[4020,75],[4040,55],[4060,52],[4080,60],[4100,192],[4108,150],[4118,70],[4130,58],[4160,52],[4190,50],[4220,48],[4260,46],[4300,44],[4320,55],[4338,192],[4347,120],[4360,55],[4380,60],[4395,68],[4410,50],[4440,52],[4462,60],[4472,105],[4490,70],[4510,55],[4550,55],[4600,56],[4650,53],[4686,63],[4710,62],[4740,55],[4800,55],[4845,58],[4861,208],[4875,90],[4890,58],[4910,60],[4922,82],[4935,60],[4960,52],[5000,55],[5016,82],[5030,60],[5060,50],[5100,48],[5150,50],[5170,65],[5180,50],[5250,52],[5300,55],[5350,54],[5400,54],[5500,52],[5600,53],[5700,54],[5800,55],[5845,56],[5872,115],[5888,62],[5900,53],[6000,54],[6100,52],[6150,53],[6200,48],[6250,50],[6300,53],[6350,58],[6400,55],[6500,56],[6535,70],[6558,242],[6572,140],[6590,62],[6620,55],[6650,60],[6676,85],[6700,58],[6750,52],[6800,50],[6900,54],[7000,58],[7050,66],[7062,82],[7080,62],[7120,52],[7200,55],[7270,58],[7300,67],[7320,60],[7400,62],[7500,65],[7580,64],[7600,60],[7700,62],[7800,61],[7900,63],[8000,64],[8100,65],[8150,66],[8200,60],[8250,66],[8300,64],[8400,65],[8450,63],[8500,65],[8530,70],[8545,68],[8560,72],[8580,62],[8620,65],[8660,72],[8680,68],[8700,60],[8740,72],[8760,68],[8800,60],[8840,72],[8860,75],[8900,60],[8950,58],[9000,72],[9030,70],[9060,58],[9100,58],[9150,60],[9194,63]];
const spec7 = [[4000,100],[4020,90],[4050,82],[4080,92],[4102,158],[4115,95],[4150,78],[4200,72],[4250,70],[4300,72],[4320,85],[4340,200],[4355,90],[4380,66],[4420,63],[4471,78],[4500,66],[4550,64],[4600,66],[4650,70],[4700,66],[4750,63],[4800,62],[4840,64],[4861,255],[4875,92],[4900,62],[4950,58],[5000,64],[5050,70],[5100,76],[5150,80],[5200,86],[5250,90],[5300,95],[5350,100],[5400,104],[5450,108],[5500,100],[5550,108],[5600,114],[5650,116],[5700,118],[5750,112],[5800,106],[5850,98],[5876,82],[5890,95],[5920,100],[5950,110],[6000,125],[6050,132],[6100,140],[6150,148],[6200,152],[6250,158],[6300,162],[6350,156],[6400,162],[6450,170],[6500,176],[6530,185],[6558,445],[6570,300],[6590,200],[6620,182],[6650,176],[6700,172],[6750,176],[6800,182],[6850,186],[6900,190],[6950,194],[7000,200],[7040,215],[7060,225],[7075,180],[7090,120],[7110,100],[7140,115],[7200,150],[7250,185],[7300,208],[7350,222],[7400,232],[7450,242],[7500,252],[7550,262],[7580,278],[7600,230],[7620,175],[7650,168],[7700,178],[7750,195],[7800,215],[7850,232],[7900,250],[7950,268],[8000,282],[8050,292],[8100,302],[8150,296],[8200,276],[8250,285],[8300,272],[8350,280],[8400,286],[8450,282],[8500,292],[8550,296],[8600,290],[8650,300],[8700,296],[8750,304],[8800,302],[8850,306],[8900,310],[8950,308],[9000,314],[9050,318],[9100,316],[9150,322],[9194,328]];
const spec8 = [[4000,12],[4020,13],[4050,11.5],[4080,12],[4102,26],[4115,14],[4150,11],[4200,10.5],[4250,10.5],[4300,11],[4340,31],[4355,14],[4380,10],[4420,9.8],[4471,14],[4500,10],[4550,9.5],[4600,9.3],[4650,9.5],[4686,10.5],[4750,9],[4800,8.8],[4861,35],[4875,12],[4900,9],[4950,8.5],[5000,10.5],[5050,8.5],[5100,8.3],[5200,8.5],[5300,8.2],[5400,8.5],[5500,8.3],[5600,8.5],[5700,8.4],[5800,8.5],[5876,17],[5890,9],[5950,8.5],[6000,8.3],[6100,8.5],[6200,8.4],[6300,8.7],[6400,8.5],[6500,9],[6540,12],[6560,43.5],[6580,15],[6620,9.5],[6678,12],[6700,9.5],[6800,9],[6900,9.5],[7000,9.5],[7065,12],[7100,10],[7200,10],[7300,10.5],[7400,11],[7500,11.5],[7600,12],[7700,12.5],[7800,13],[7900,13.5],[8000,14],[8100,14.5],[8200,14],[8300,14.5],[8400,13.5],[8500,13],[8550,14],[8600,13],[8700,12.5],[8800,13],[8900,12.5],[9000,13],[9100,12.5],[9200,17.5],[9250,13],[9300,12],[9400,12.5],[9500,13],[9550,16.5],[9600,13],[9700,12],[9800,12.5],[9890,12]];

// ---------------- LAYOUT / DRAW ----------------
const ROW_TOP = 7.5, ROW_STEP = 170.72, PLOT_H = 146.3;
const LEFT = {l:59.4, r:501.7, cl:0, cw:530};
const RIGHT = {l:553.5, r:987.5, cl:520, cw:468};
const FONT = {family:'"DejaVu Sans"', size:9};

const lcCfg = [
  {obs:obs1, fit:fit1, xr:[8131,10012], xt:lcTicksA, yr:[18.37,22.08], yt:magTicks1, dec:0},
  {obs:obs2, fit:fit2, xr:[8131,10012], xt:lcTicksA, yr:[17.74,21.75], yt:magTicks2, dec:0},
  {obs:obs3, fit:fit3, xr:[8131,10012], xt:lcTicksA, yr:[16.84,20.51], yt:magTicks3, dec:0},
  {obs:obs4, fit:fit4, xr:[3268,6613], xt:lcTicksB, yr:[15.22,19.98], yt:magTicks4, dec:0},
  {obs:obs5, fit:fit5, xr:[8136,9838], xt:lcTicksC, yr:[18.5,22.26], yt:magTicks5, dec:0},
  {obs:obs6, fit:fit6, xr:[8131,10012], xt:lcTicksA, yr:[16.18,19.05], yt:magTicks6, dec:1},
  {obs:obs7, fit:fit7, xr:[8171,10024], xt:lcTicksA, yr:[15.35,16.93], yt:magTicks7, dec:2},
  {obs:obs8, fit:fit8, xr:[8171,10024], xt:lcTicksA, yr:[17.66,20.6], yt:magTicks8, dec:1}
];
const spCfg = [
  {spec:spec1, ymax:80, yt:fluxTicks1, minor:5},
  {spec:spec2, ymax:19.95, yt:fluxTicks2, minor:1},
  {spec:spec3, ymax:59.9, yt:fluxTicks3, minor:2},
  {spec:spec4, ymax:29.9, yt:fluxTicks4, minor:1},
  {spec:spec5, ymax:19.95, yt:fluxTicks5, minor:1},
  {spec:spec6, ymax:299, yt:fluxTicks6, minor:10},
  {spec:spec7, ymax:495, yt:fluxTicks7, minor:20},
  {spec:spec8, ymax:49.9, yt:fluxTicks8, minor:2}
];

function range(a, b, s) { const out = []; for (let v = a; v <= b + 1e-9; v += s) out.push(+v.toFixed(6)); return out; }

function framePlugin(p) {
  return {
    id: 'frame',
    afterDraw(chart) {
      const ctx = chart.ctx, ca = chart.chartArea, xs = chart.scales.x, ys = chart.scales.y;
      ctx.save();
      ctx.strokeStyle = '#000';
      ctx.lineWidth = 1;
      const L = Math.round(ca.left) + 0.5, R = Math.round(ca.right) - 0.5, T = Math.round(ca.top) + 0.5, B = Math.round(ca.bottom) - 0.5;
      ctx.strokeRect(L, T, R - L, B - T);
      ctx.beginPath();
      const tick = (vals, len, horiz) => {
        vals.forEach(v => {
          if (horiz) {
            const px = Math.round(xs.getPixelForValue(v)) + 0.5;
            if (px < L - 0.1 || px > R + 0.1) return;
            ctx.moveTo(px, B); ctx.lineTo(px, B - len);
            ctx.moveTo(px, T); ctx.lineTo(px, T + len);
          } else {
            const py = Math.round(ys.getPixelForValue(v)) + 0.5;
            if (py < T - 0.1 || py > B + 0.1) return;
            ctx.moveTo(L, py); ctx.lineTo(L + len, py);
            ctx.moveTo(R, py); ctx.lineTo(R - len, py);
          }
        });
      };
      tick(p.xt, 4.5, true);
      tick(p.yt, 4.5, false);
      if (p.xminor) tick(p.xminor, 2.5, true);
      if (p.yminor) tick(p.yminor, 2.5, false);
      ctx.stroke();
      if (p.name) {
        ctx.fillStyle = '#000';
        ctx.textBaseline = 'alphabetic';
        ctx.textAlign = 'left';
        const x0 = ca.left + 22.4;
        ctx.font = '9.5px "DejaVu Sans"';
        ctx.fillText(p.name, x0, ca.top + 15.3);
        const yb = ca.top + 29.3;
        ctx.font = 'italic 9.5px "DejaVu Sans"';
        ctx.fillText('P', x0, yb);
        let x = x0 + ctx.measureText('P').width + 0.3;
        ctx.font = '6.7px "DejaVu Sans"';
        ctx.fillText('orb', x, yb + 2.3);
        x += ctx.measureText('orb').width;
        ctx.font = '9.5px "DejaVu Sans"';
        ctx.fillText(' = ' + p.period, x, yb);
      }
      ctx.restore();
    }
  };
}

function makePanel(side, row, p, datasets) {
  const top = ROW_TOP + row * ROW_STEP;
  const cTop = Math.floor(top) - 11;
  const cH = 184;
  const c = document.createElement('canvas');
  c.width = side.cw; c.height = cH;
  c.style.left = side.cl + 'px'; c.style.top = cTop + 'px';
  c.style.width = side.cw + 'px'; c.style.height = cH + 'px';
  document.body.appendChild(c);
  const padTop = top - cTop;
  const yW = side.l - side.cl;
  const xH = cTop + cH - (top + PLOT_H);
  const padRight = side.cl + side.cw - side.r;
  new Chart(c, {
    type: 'scatter',
    data: {datasets},
    options: {
      responsive: false, animation: false, devicePixelRatio: 1, events: [],
      layout: {padding: {left: 0, top: padTop, right: padRight, bottom: 0}, autoPadding: false},
      plugins: {legend: {display: false}, tooltip: {enabled: false}},
      scales: {
        x: {
          type: 'linear', position: 'bottom', min: p.xr[0], max: p.xr[1],
          grid: {display: false, drawTicks: false}, border: {display: false},
          ticks: {autoSkip: false, maxRotation: 0, minRotation: 0, padding: 3.2, font: FONT, color: '#000', callback: v => String(v)},
          afterBuildTicks: s => { s.ticks = p.xt.map(v => ({value: v})); },
          afterFit: s => { s.height = xH; }
        },
        y: {
          type: 'linear', position: 'left', min: p.yr[0], max: p.yr[1], reverse: !!p.rev,
          grid: {display: false, drawTicks: false}, border: {display: false},
          ticks: {autoSkip: false, padding: 4, font: FONT, color: '#000', callback: v => Number(v).toFixed(p.dec)},
          afterBuildTicks: s => { s.ticks = p.yt.map(v => ({value: v})); },
          afterFit: s => { s.width = yW; }
        }
      }
    },
    plugins: [framePlugin(p)]
  });
}

const toXY = arr => arr.map(d => ({x: d[0], y: d[1]}));

lcCfg.forEach((cfg, i) => {
  const p = Object.assign({}, cfg, {rev: true, name: names[i], period: periods[i]});
  makePanel(LEFT, i, p, [
    {data: toXY(cfg.fit), showLine: true, borderColor: '#008000', borderWidth: 2, pointRadius: 0, order: 0, tension: 0},
    {data: toXY(cfg.obs), showLine: false, pointRadius: 1.35, pointBackgroundColor: '#0000ff', pointBorderWidth: 0, borderColor: '#0000ff', order: 1}
  ]);
});

spCfg.forEach((cfg, i) => {
  const xr = [4000, 9890];
  const p = {
    xr, xt: specTicks, yr: [0, cfg.ymax], yt: cfg.yt, dec: 0, rev: false,
    xminor: range(4000, 9800, 200).filter(v => v % 1000 !== 0 || v === 4000),
    yminor: range(0, cfg.ymax, cfg.minor).filter(v => !cfg.yt.includes(v))
  };
  const vl = [];
  balmerLines.forEach(w => vl.push({data: [{x: w, y: 0}, {x: w, y: cfg.ymax}], showLine: true, borderColor: '#90ee90', borderWidth: 1, pointRadius: 0, order: 2}));
  heliumLines.forEach(w => vl.push({data: [{x: w, y: 0}, {x: w, y: cfg.ymax}], showLine: true, borderColor: '#dda0dd', borderWidth: 1, pointRadius: 0, order: 2}));
  makePanel(RIGHT, i, p, [
    {data: toXY(cfg.spec), showLine: true, borderColor: '#0000ff', borderWidth: 1, pointRadius: 0, order: 0, tension: 0}
  ].concat(vl));
});
</script>
</body></html>
